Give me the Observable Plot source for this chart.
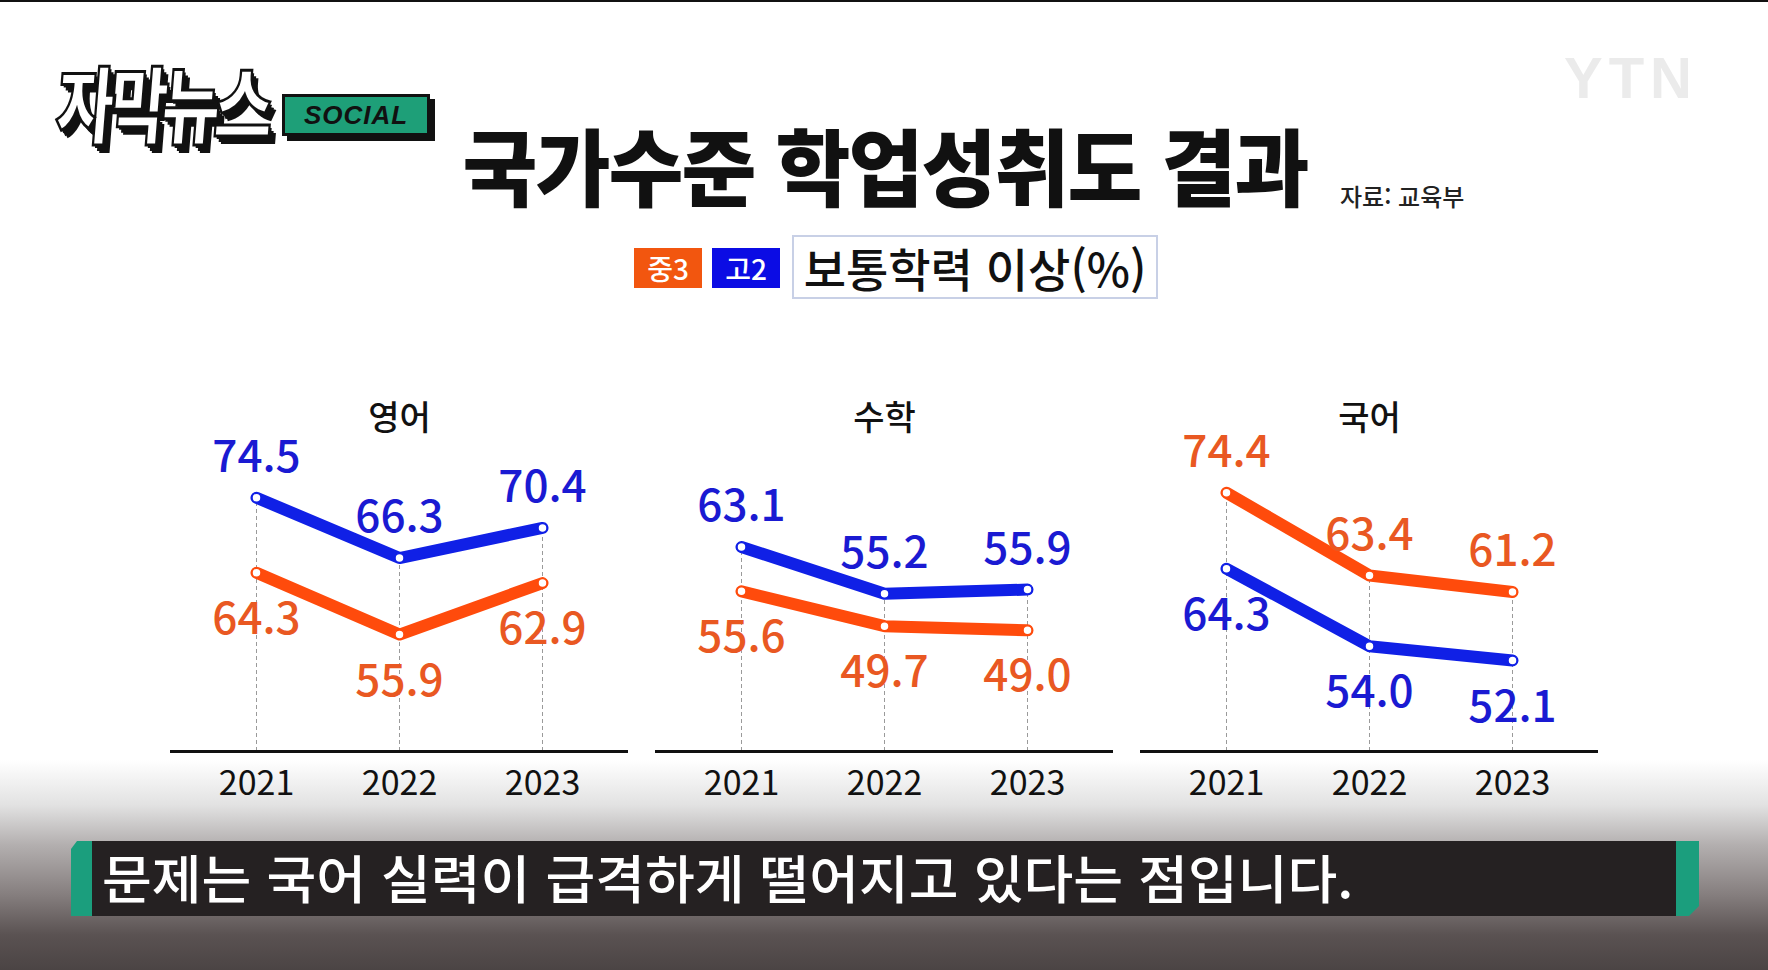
<!DOCTYPE html>
<html lang="ko">
<head>
<meta charset="utf-8">
<script src="https://cdn.jsdelivr.net/npm/d3@7"></script>
<script src="https://cdn.jsdelivr.net/npm/@observablehq/plot@0.6"></script>
<style>
  html, body { margin: 0; padding: 0; background: #fff; }
  #stage {
    position: relative; width: 1768px; height: 970px; overflow: hidden;
    background: #fff; font-family: "Noto Sans CJK KR", "Noto Sans", sans-serif;
  }
  .abs { position: absolute; }
  #topline { left: 0; top: 0; width: 1768px; height: 2px; background: #111; }
  #ytn {
    left: 1564px; top: 44px; font: 700 58px "Liberation Sans", Arial, sans-serif;
    color: #ebebeb; letter-spacing: 6px;
  }
  #logo-main {
    left: 62px; top: 40px; font-size: 84px; font-weight: 900; color: #fff;
    -webkit-text-stroke: 3px #111; letter-spacing: -8px;
    transform-origin: left top; transform: scaleX(0.76) skewX(-6deg);
    text-shadow: 3px 3px 0 #111, 6px 6px 0 #111, 9px 8px 0 #111;
    white-space: nowrap;
  }
  #logo-social {
    left: 282px; top: 94px; width: 148px; height: 42px; background: #1e9f78;
    border: 3px solid #111; box-sizing: border-box;
    box-shadow: 5px 5px 0 #111;
    font: italic 700 26px "Liberation Sans", Arial, sans-serif; color: #111;
    display: flex; align-items: center; justify-content: center; letter-spacing: 1px;
  }
  #title {
    left: 885px; top: 103px; font-size: 84px; font-weight: 900; color: #111;
    white-space: nowrap; transform-origin: center top; transform: translateX(-50%) scaleX(0.97);
    letter-spacing: -2px;
  }
  #source { left: 1340px; top: 178px; font-size: 24px; font-weight: 500; color: #222; white-space: nowrap; }
  .chip {
    top: 248px; height: 40px; color: #fff; font-size: 28px; font-weight: 500;
    display: flex; align-items: center; justify-content: center;
  }
  #unit {
    left: 792px; top: 235px; width: 366px; height: 64px; box-sizing: border-box;
    border: 2px solid #c8d0e6; background: #fff; color: #111;
    font-size: 46px; font-weight: 500; display: flex; align-items: center; justify-content: center;
    white-space: nowrap;
  }
  #shade {
    left: 0; top: 760px; width: 1768px; height: 210px;
    background: linear-gradient(to bottom, rgba(255,255,255,0) 0px, #e2e2e2 45px, #b3afaf 85px,
      #857e7e 135px, #5a5252 175px, #4b4444 210px);
  }
  .panel { top: 380px; }
  #bar-left {
    left: 71px; top: 841px; width: 22px; height: 75px; background: #1b9e7d;
    clip-path: polygon(6px 0, 100% 0, 100% 100%, 0 100%, 0 8px);
  }
  #bar-mid { left: 92px; top: 841px; width: 1585px; height: 75px; background: #252122; }
  #bar-right {
    left: 1676px; top: 841px; width: 23px; height: 75px; background: #1b9e7d;
    clip-path: polygon(0 0, 100% 0, 100% calc(100% - 10px), calc(100% - 10px) 100%, 0 100%);
  }
  #caption {
    left: 102px; top: 839px; font-size: 52px; font-weight: 500; color: #fff; white-space: nowrap;
    transform-origin: left top; transform: scaleX(1.04);
  }
</style>
</head>
<body>
<div id="stage">
  <div id="topline" class="abs"></div>
  <div id="ytn" class="abs">YTN</div>
  <div id="logo-main" class="abs">자막뉴스</div>
  <div id="logo-social" class="abs">SOCIAL</div>
  <div id="title" class="abs">국가수준 학업성취도 결과</div>
  <div id="source" class="abs">자료: 교육부</div>
  <div id="chips"></div>
  <div id="unit" class="abs">보통학력 이상(%)</div>
  <div id="shade" class="abs"></div>
  <div id="panels"></div>
  <div id="bar-left" class="abs"></div>
  <div id="bar-mid" class="abs"></div>
  <div id="bar-right" class="abs"></div>
  <div id="caption" class="abs">문제는 국어 실력이 급격하게 떨어지고 있다는 점입니다.</div>
</div>
<script>
// Share of students at or above the "basic" proficiency level (%), by subject and year.
const years = ["2021", "2022", "2023"];
const subjects = ["영어", "수학", "국어"];
const grades = ["중3", "고2"];
const middle3 = [
  [64.3, 55.9, 62.9],   // 영어
  [55.6, 49.7, 49.0],   // 수학
  [74.4, 63.4, 61.2]    // 국어
];
const high2 = [
  [74.5, 66.3, 70.4],   // 영어
  [63.1, 55.2, 55.9],   // 수학
  [64.3, 54.0, 52.1]    // 국어
];

const lineColor = {"중3": "#ff4b0c", "고2": "#1020e6"};
const textColor = {"중3": "#e95822", "고2": "#1a1ad2"};
const chipColor = {"중3": "#f2560f", "고2": "#0b0ce4"};

// Each panel has its own vertical scale.
const yDomains = [[40, 85], [28.5, 84.5], [40, 84]];

// Legend chips
const chips = document.getElementById("chips");
grades.forEach((g, i) => {
  const el = document.createElement("div");
  el.className = "abs chip";
  el.textContent = g;
  el.style.left = (634 + i * 78) + "px";
  el.style.width = "68px";
  el.style.background = chipColor[g];
  chips.appendChild(el);
});

const panels = document.getElementById("panels");
const font = '"Noto Sans CJK KR", "Noto Sans", sans-serif';

subjects.forEach((subject, s) => {
  const rows = [];
  years.forEach((year, k) => {
    rows.push({subject, year, grade: "중3", value: middle3[s][k]});
    rows.push({subject, year, grade: "고2", value: high2[s][k]});
  });
  // Higher series gets labels above its points, lower series below.
  const meanOf = g => d3.mean(rows.filter(d => d.grade === g), d => d.value);
  const upperGrade = meanOf("중3") > meanOf("고2") ? "중3" : "고2";
  const upper = rows.filter(d => d.grade === upperGrade);
  const lower = rows.filter(d => d.grade !== upperGrade);
  const peaks = years.map(year => ({year, value: d3.max(rows.filter(d => d.year === year), d => d.value)}));
  const base = yDomains[s][0];

  const chart = Plot.plot({
    width: 458,
    height: 440,
    marginLeft: 0,
    marginRight: 0,
    marginTop: 40,
    marginBottom: 69,
    style: {fontFamily: font, overflow: "visible", background: "transparent"},
    x: {type: "point", domain: years, padding: 0.6},
    y: {domain: yDomains[s], axis: null},
    marks: [
      Plot.ruleX(peaks, {x: "year", y1: base, y2: "value", stroke: "#9a9a9a", strokeWidth: 1, strokeDasharray: "4,3"}),
      Plot.ruleY([base], {stroke: "#111", strokeWidth: 3}),
      Plot.axisX({tickSize: 0, tickPadding: 19, fontSize: 34, fill: "#111", label: null}),
      Plot.line(rows, {x: "year", y: "value", z: "grade", stroke: d => lineColor[d.grade],
        strokeWidth: 12, strokeLinecap: "round", strokeLinejoin: "round"}),
      Plot.dot(rows, {x: "year", y: "value", r: 4.5, fill: "#fff", stroke: d => lineColor[d.grade], strokeWidth: 1.5}),
      Plot.text(upper, {x: "year", y: "value", text: d => d.value.toFixed(1), dy: -40,
        fill: d => textColor[d.grade], fontSize: 44, fontWeight: 500, lineAnchor: "middle"}),
      Plot.text(lower, {x: "year", y: "value", text: d => d.value.toFixed(1), dy: 47,
        fill: d => textColor[d.grade], fontSize: 44, fontWeight: 500, lineAnchor: "middle"}),
      Plot.text([subject], {frameAnchor: "top", text: d => d, lineAnchor: "middle", dy: -1,
        fontSize: 34, fontWeight: 500, fill: "#111"})
    ]
  });
  chart.classList.add("abs", "panel");
  chart.style.left = (170 + s * 485) + "px";
  panels.appendChild(chart);
});
</script>
</body>
</html>
